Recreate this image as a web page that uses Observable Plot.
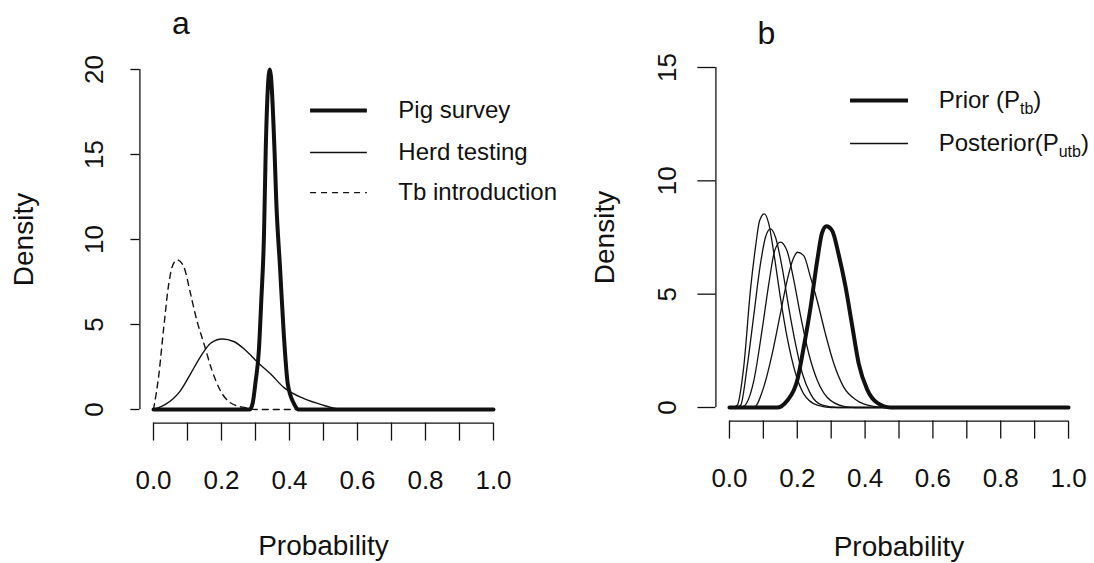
<!DOCTYPE html>
<html><head><meta charset="utf-8">
<script src="https://cdn.jsdelivr.net/npm/d3@7"></script>
<script src="https://cdn.jsdelivr.net/npm/@observablehq/plot@0.6"></script>
<style>
body{margin:0;background:#fff;}
#wrap{position:relative;width:1094px;height:563px;background:#fff;overflow:hidden;}
#wrap svg{position:absolute;top:0;}
</style></head><body><div id="wrap"></div>
<script>
// ---- tick values / labels ----
const xTicks = [0,0.1,0.2,0.3,0.4,0.5,0.6,0.7,0.8,0.9,1.0];
const xTickLabels = [0,0.2,0.4,0.6,0.8,1.0];
const yTicksA = [0,5,10,15,20];
const yTicksB = [0,5,10,15];
const titles = ["a","b"];
const xTitle = "Probability";
const yTitle = "Density";

// ---- panel a series: [probability, density] ----
const pigSurvey = [[0,0],[0.283,0],[0.292,0.4],[0.3,1.6],[0.31,3.5],[0.317,6.4],[0.325,10.3],[0.33,15.2],[0.342,20],[0.356,15.2],[0.361,12.3],[0.372,8.4],[0.383,4.5],[0.395,1.5],[0.413,0.35],[0.427,0],[1,0]];
const herdTesting = [[0,0],[0.035,0.3],[0.079,1.1],[0.109,2.1],[0.138,3.1],[0.168,3.9],[0.202,4.15],[0.236,4.0],[0.27,3.5],[0.305,2.8],[0.344,2.1],[0.383,1.3],[0.441,0.65],[0.5,0.25],[0.54,0.05],[0.6,0],[1,0]];
const tbIntroduction = [[0,0],[0.016,2.1],[0.03,4.8],[0.045,7.4],[0.055,8.4],[0.07,8.8],[0.089,8.4],[0.109,6.8],[0.128,5.2],[0.148,3.9],[0.172,2.3],[0.197,1.1],[0.226,0.4],[0.27,0.1],[0.3,0],[1,0]];
const legendA = ["Pig survey","Herd testing","Tb introduction"];

// ---- panel b series ----
const prior = [[0,0],[0.14,0],[0.17,0.3],[0.2,1.2],[0.219,2.66],[0.239,4.4],[0.259,6.5],[0.273,7.7],[0.286,8.0],[0.303,7.8],[0.322,6.75],[0.342,5.35],[0.362,3.6],[0.381,1.95],[0.406,0.8],[0.436,0.2],[0.475,0],[1,0]];
const posterior1 = [[0,0],[0.01,0],[0.023,0.1],[0.042,1.78],[0.062,5.2],[0.077,7.1],[0.089,8.25],[0.103,8.54],[0.116,8.1],[0.131,6.8],[0.15,4.87],[0.17,3.1],[0.195,1.5],[0.219,0.6],[0.259,0.1],[0.3,0],[1,0]];
const posterior2 = [[0,0],[0.02,0],[0.033,0.1],[0.052,1.78],[0.072,4.1],[0.091,6.3],[0.106,7.5],[0.121,7.88],[0.136,7.5],[0.155,6.2],[0.175,4.4],[0.195,2.8],[0.215,1.5],[0.239,0.6],[0.274,0.1],[0.32,0],[1,0]];
const posterior3 = [[0,0],[0.03,0],[0.042,0.05],[0.072,1.2],[0.096,3.4],[0.116,5.45],[0.133,6.9],[0.15,7.3],[0.17,6.9],[0.19,5.6],[0.209,4.1],[0.234,2.37],[0.259,1.2],[0.288,0.45],[0.337,0.05],[0.37,0],[1,0]];
const posterior4 = [[0,0],[0.072,0],[0.101,0.9],[0.126,2.37],[0.15,4.13],[0.17,5.6],[0.188,6.56],[0.201,6.85],[0.219,6.7],[0.239,5.75],[0.259,4.7],[0.283,3.25],[0.308,1.93],[0.337,0.9],[0.377,0.3],[0.426,0.05],[0.46,0],[1,0]];
const legendBMain = ["Prior (P","Posterior(P"];
const legendBSub = ["tb","utb"];

// ---- helpers ----
const FONT = "'Liberation Sans', Arial, Helvetica, sans-serif";
const INK = "#111";
const ext = (lo, hi) => { const p = (hi - lo) * 0.04; return [lo - p, hi + p]; };
const X = d => d[0], Y = d => d[1];

function axes(xDom, yDom, yTicks, o) {
  return [
    Plot.ruleY([yDom[0]], {x1: xTicks[0], x2: xTicks[xTicks.length-1], stroke: INK, strokeWidth: 1.3}),
    Plot.axisX(xTicks, {tickSize: 18, tickFormat: () => "", label: null, stroke: INK, strokeWidth: 1.3}),
    Plot.axisX(xTickLabels, {tickSize: 0, tickPadding: 47, tickFormat: d3.format(".1f"), fontSize: 26, label: null, fill: INK}),
    Plot.ruleX([xDom[0]], {y1: yTicks[0], y2: yTicks[yTicks.length-1], stroke: INK, strokeWidth: 1.3}),
    Plot.axisY(yTicks, {tickSize: o.yTick, tickFormat: () => "", label: null, stroke: INK, strokeWidth: 1.3}),
    Plot.text(yTicks, {y: d => d, text: d => String(d), frameAnchor: "left", dx: o.yLabDx, rotate: -90, textAnchor: "middle", lineAnchor: "middle", fontSize: 26, fill: INK}),
    Plot.text([yTitle], {frameAnchor: "left", dx: o.yTitleDx, rotate: -90, textAnchor: "middle", lineAnchor: "middle", fontSize: 28, fill: INK}),
    Plot.text([xTitle], {x: 0.5, frameAnchor: "bottom", dy: o.xTitleDy, textAnchor: "middle", lineAnchor: "bottom", fontSize: 28, fill: INK}),
    Plot.text([o.title], {frameAnchor: "top-left", dx: o.titleDx, dy: o.titleDy, textAnchor: "start", lineAnchor: "bottom", fontSize: 32, fill: INK})
  ];
}

// ---- panel a ----
const xDom = ext(0, 1);
const yDomA = ext(0, 20);
const legAx = [0.462, 0.629, 0.72];
const legAy = [17.59, 15.12, 12.76];
const legAStyle = [{w: 4, dash: null}, {w: 1.4, dash: null}, {w: 1.4, dash: "6,5"}];

const plotA = Plot.plot({
  width: 547, height: 563,
  marginLeft: 139.4, marginRight: 40.4, marginTop: 55.4, marginBottom: 140.4,
  x: {domain: xDom, axis: null}, y: {domain: yDomA, axis: null},
  style: {fontFamily: FONT, color: INK, background: "transparent", overflow: "visible"},
  marks: [
    ...axes(xDom, yDomA, yTicksA, {yTick: 9, yLabDx: -45, yTitleDx: -116, xTitleDy: 132, title: titles[0], titleDx: 32, titleDy: -22}),
    Plot.line(tbIntroduction, {x: X, y: Y, stroke: INK, strokeWidth: 1.4, strokeDasharray: "6,5", curve: "monotone-x"}),
    Plot.line(herdTesting, {x: X, y: Y, stroke: INK, strokeWidth: 1.4, curve: "monotone-x"}),
    Plot.line(pigSurvey, {x: X, y: Y, stroke: INK, strokeWidth: 4, curve: "monotone-x"}),
    ...legendA.map((lab, i) => Plot.ruleY([legAy[i]], {x1: legAx[0], x2: legAx[1], stroke: INK, strokeWidth: legAStyle[i].w, strokeDasharray: legAStyle[i].dash})),
    Plot.text(legendA, {x: legAx[2], y: (d, i) => legAy[i], text: d => d, textAnchor: "start", lineAnchor: "middle", fontSize: 24, fill: INK})
  ]
});

// ---- panel b ----
const yDomB = ext(0, 15);
const legBx = [0.357, 0.528, 0.617];
const legBy = [13.54, 11.65];
const legBW = [4, 1.4];
const posteriors = [posterior1, posterior2, posterior3, posterior4];

const plotB = Plot.plot({
  width: 547, height: 563,
  marginLeft: 168.4, marginRight: 12.4, marginTop: 53.4, marginBottom: 142.4,
  x: {domain: xDom, axis: null}, y: {domain: yDomB, axis: null},
  style: {fontFamily: FONT, color: INK, background: "transparent", overflow: "visible"},
  marks: [
    ...axes(xDom, yDomB, yTicksB, {yTick: 18, yLabDx: -48, yTitleDx: -111, xTitleDy: 135, title: titles[1], titleDx: 41.5, titleDy: -10.4}),
    ...posteriors.map(p => Plot.line(p, {x: X, y: Y, stroke: INK, strokeWidth: 1.3, curve: "monotone-x"})),
    Plot.line(prior, {x: X, y: Y, stroke: INK, strokeWidth: 4, curve: "monotone-x"}),
    ...legendBMain.map((lab, i) => Plot.ruleY([legBy[i]], {x1: legBx[0], x2: legBx[1], stroke: INK, strokeWidth: legBW[i]})),
    Plot.text(legendBMain, {x: legBx[2], y: (d, i) => legBy[i], text: (d, i) => d + legendBSub[i] + ")", textAnchor: "start", lineAnchor: "middle", fontSize: 24, fill: INK, className: "sublegend"})
  ]
});

const wrap = document.getElementById("wrap");
plotA.style.left = "0px";
plotB.style.left = "547px";
wrap.appendChild(plotA);
wrap.appendChild(plotB);

// subscript formatting for legend b
plotB.querySelectorAll(".sublegend text").forEach((t, i) => {
  const ns = "http://www.w3.org/2000/svg";
  t.textContent = legendBMain[i];
  const s = document.createElementNS(ns, "tspan");
  s.setAttribute("font-size", "16");
  s.setAttribute("dy", "6");
  s.textContent = legendBSub[i];
  const c = document.createElementNS(ns, "tspan");
  c.setAttribute("dy", "-6");
  c.textContent = ")";
  t.appendChild(s);
  t.appendChild(c);
});
</script></body></html>
